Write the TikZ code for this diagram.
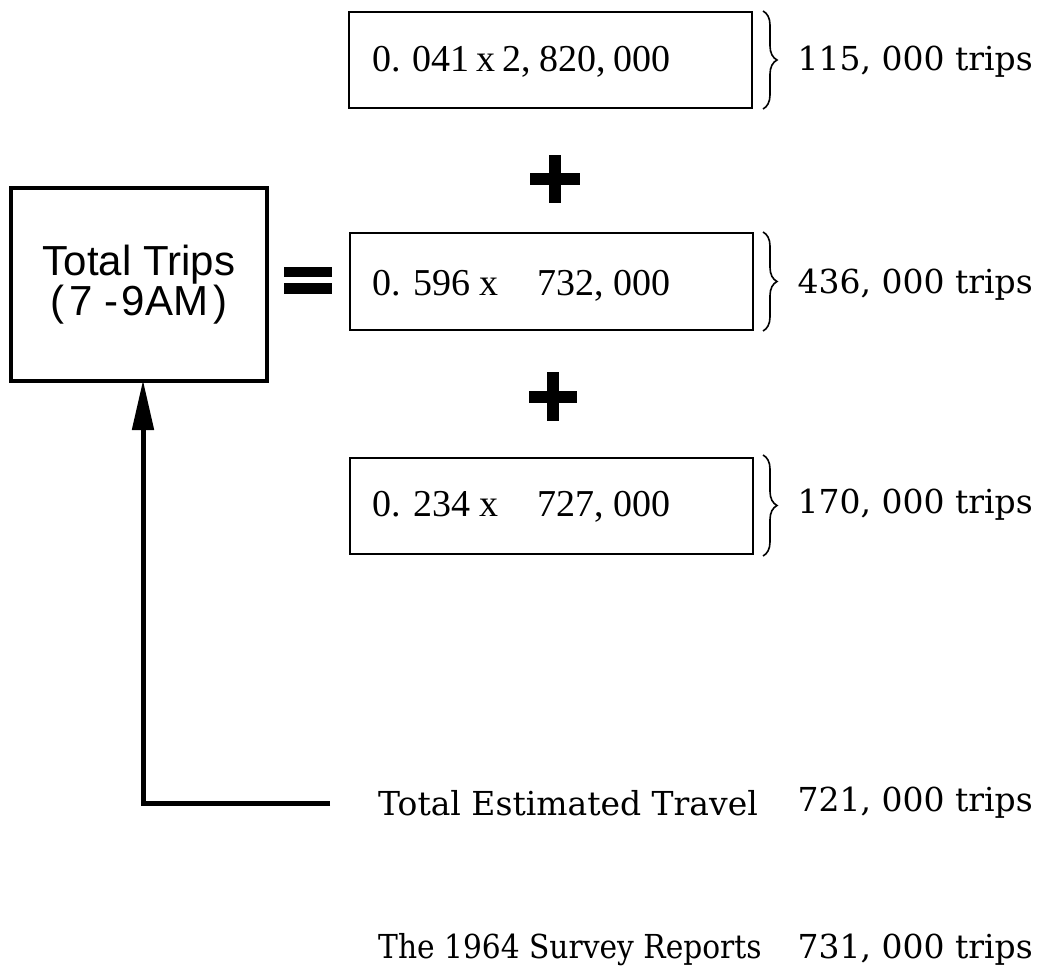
\documentclass[tikz,border=0pt]{standalone}
\usepackage{fontspec}
\setmainfont{Liberation Serif}
\newfontfamily\labfont{DejaVu Serif}
\newfontfamily\boxfont{Liberation Serif}
\newfontfamily\headfont{Liberation Sans}
\usetikzlibrary{decorations.pathreplacing,arrows.meta}
\begin{document}
\begin{tikzpicture}[x=1pt,y=-1pt,
  termbox/.style={draw,line width=2pt,minimum width=403pt,minimum height=96pt,inner sep=0pt},
  termtext/.style={inner sep=0pt,anchor=west,font=\boxfont\fontsize{38}{40}\selectfont},
  lab/.style={inner sep=0pt,font=\labfont\fontsize{33}{36}\selectfont},
  bracestyle/.style={decorate,decoration={brace,amplitude=14pt},line width=1.6pt},
  bar/.style={fill=black,draw=none},
  heavy/.style={line width=5pt}]
\useasboundingbox (0,0) rectangle (1044,968);
% main box
\node[draw,line width=4pt,minimum width=256pt,minimum height=193pt,inner sep=0pt,
      align=center,font=\headfont\fontsize{42}{38}\selectfont] (total) at (139,284.5)
  {Total Trips\\(\hspace{5pt}7 -\hspace{3pt}9AM\hspace{5pt})};
% equal sign
\fill[bar] (284,267) rectangle (332,277);
\fill[bar] (284,283) rectangle (332,294);
% term boxes
\node[termbox] (t1) at (550.5,60.5) {};
\node[termbox] (t2) at (551,281.5) {};
\node[termbox] (t3) at (551.5,506) {};
\node[termtext] (x1) at (372,62) {\makebox[298pt][s]{0. 041 x 2, 820, 000}};
\node[termtext] (x2) at (372,286) {\makebox[298pt][s]{0. 596 x\hfill 732, 000}};
\node[termtext] (x3) at (372,507) {\makebox[298pt][s]{0. 234 x\hfill 727, 000}};
% plus signs
\fill[bar] (530,173) rectangle (580,185);
\fill[bar] (549,155) rectangle (561,203);
\fill[bar] (529,391) rectangle (577,403);
\fill[bar] (547,372) rectangle (559,421);
% braces
\coordinate (b1a) at (763,11); \coordinate (b1b) at (763,109);
\coordinate (b2a) at (763,232); \coordinate (b2b) at (763,331);
\coordinate (b3a) at (763,455); \coordinate (b3b) at (763,556);
\draw[bracestyle] (b1a) -- (b1b);
\draw[bracestyle] (b2a) -- (b2b);
\draw[bracestyle] (b3a) -- (b3b);
\node[lab,anchor=east] (r1) at (1033,62) {115, 000 trips};
\node[lab,anchor=east] (r2) at (1033,285) {436, 000 trips};
\node[lab,anchor=east] (r3) at (1033,505) {170, 000 trips};
% bottom texts
\node[lab,anchor=west] (est) at (378,803) {Total Estimated Travel};
\node[lab,anchor=east] (estv) at (1033,803) {721, 000 trips};
\node[lab,anchor=west] (sur) at (378,950) {\scalebox{0.9}[1]{The 1964 Survey Reports}};
\node[lab,anchor=east] (surv) at (1033,950) {731, 000 trips};
% arrow
\coordinate (corner) at (143,803);
\coordinate (lineend) at (330,803);
\draw[heavy,-{Triangle[length=50pt,width=21pt]},shorten >=-3pt] (lineend) -- (corner) -- (total.south -| corner);
\end{tikzpicture}
\end{document}
